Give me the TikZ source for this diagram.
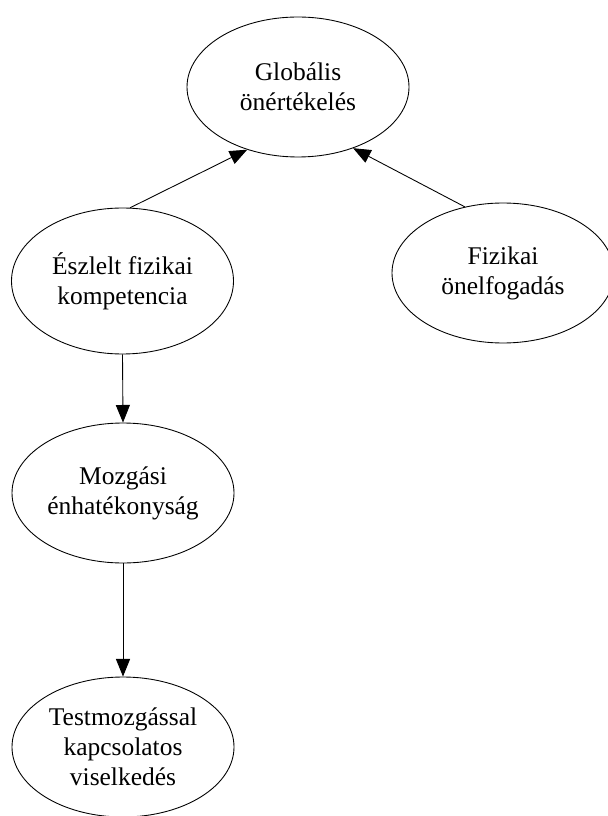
\documentclass[tikz,border=0pt]{standalone}
\usepackage{fontspec}
\setmainfont{Liberation Serif}
\usetikzlibrary{arrows.meta,shapes.geometric}

\begin{document}
\begin{tikzpicture}[->,>={Triangle[length=10pt,width=8pt]},
    line width=0.5pt,
    bubble/.style={ellipse,
          draw,
          align=center,
          inner sep=0pt,
          font=\fontsize{14.5}{17}\selectfont,
          minimum width = 4.44cm,
          minimum height = 2.8cm}]

    \useasboundingbox (0,0) rectangle (12.14,-16.32);

    \node[bubble] (glob) at (5.96,-1.74) {Globális\\önértékelés};

    \node[bubble,
          minimum height = 2.92cm] (eszlelt) at (2.45,-5.62) {Észlelt fizikai\\kompetencia};

    \node[bubble] (fizikai) at (10.06,-5.46) {Fizikai\\önelfogadás};

    \node[bubble] (mozgasi) at (2.46,-9.86) {Mozgási\\énhatékonyság};

    \node[bubble] (testm) at (2.46,-14.94) {Testmozgással\\kapcsolatos\\viselkedés};

    \path
     (eszlelt.84) edge (glob.231)
     (fizikai.120) edge (glob.312)
     (eszlelt.south) edge (mozgasi.north)
     (mozgasi.south) edge (testm.north);

\end{tikzpicture}
\end{document}
